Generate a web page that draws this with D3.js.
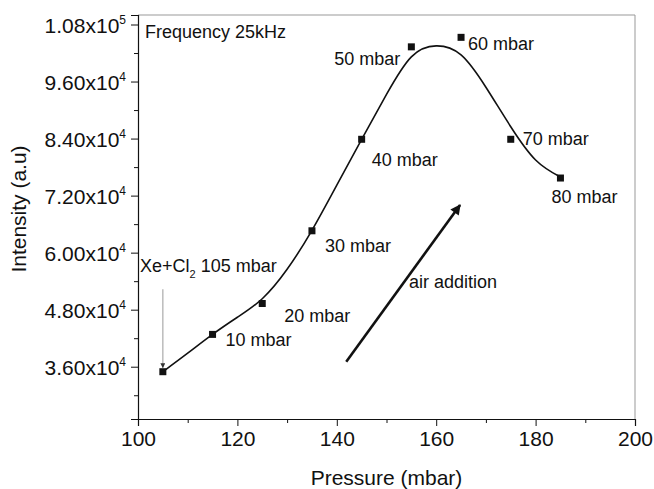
<!DOCTYPE html>
<html><head><meta charset="utf-8">
<script src="https://cdn.jsdelivr.net/npm/d3@7"></script>
<style>
body{margin:0;background:#fff}
svg{display:block}
text{font-family:"Liberation Sans",Arial,Helvetica,sans-serif;fill:#111}
</style>
</head><body>
<svg id="c" width="654" height="489"></svg>
<script>
// ---- data ----
const pressure = [105, 115, 125, 135, 145, 155, 165, 175, 185];
const intensity = [34950, 42800, 49300, 64600, 83850, 103300, 105300, 83850, 75700];
const pointLabels = ["", "10 mbar", "20 mbar", "30 mbar", "40 mbar", "50 mbar", "60 mbar", "70 mbar", "80 mbar"];
const fitPressure = [105, 110, 115, 120, 125, 130, 135, 140, 145, 150, 155, 160, 165, 170, 175, 180, 185];
const fitIntensity = [34950, 38850, 42800, 46400, 50300, 56500, 64700, 74200, 83850, 93300, 101200, 103500, 101600, 94800, 86500, 79500, 75900];
const xTicks = [100, 120, 140, 160, 180, 200];
const xMinorTicks = [110, 130, 150, 170, 190];
const yTicks = [36000, 48000, 60000, 72000, 84000, 96000, 108000];
const yTickMantissa = ["3.60", "4.80", "6.00", "7.20", "8.40", "9.60", "1.08"];
const yTickExponent = ["4", "4", "4", "4", "4", "4", "5"];
const yMinorTicks = [30000, 42000, 54000, 66000, 78000, 90000, 102000];
const arrowFrom = [141.9, 37060];
const arrowTo = [164.8, 70030];
const xeArrowFrom = [105, 52300];
const xeArrowTo = [105, 35800];

// ---- layout ----
const svg = d3.select("#c");
const L = 138, R = 635, T = 15, B = 419;
const x = d3.scaleLinear().domain([100, 200]).range([L, R]);
const y = d3.scaleLinear().domain([25000, 110000]).range([B, T]);

// frame (top/right)
svg.append("line").attr("x1", L).attr("x2", R).attr("y1", T).attr("y2", T)
  .attr("stroke", "#999").attr("stroke-width", 1);
svg.append("line").attr("x1", R).attr("x2", R).attr("y1", T).attr("y2", B)
  .attr("stroke", "#999").attr("stroke-width", 1);

// x axis
const xAxis = svg.append("g").attr("transform", `translate(0,${B})`)
  .call(d3.axisBottom(x).tickValues(xTicks).tickSize(7).tickPadding(5).tickFormat(d3.format("d")));
svg.append("g").attr("transform", `translate(0,${B})`)
  .call(d3.axisBottom(x).tickValues(xMinorTicks).tickSize(4).tickFormat(""))
  .call(g => g.select(".domain").remove());
xAxis.selectAll("text").attr("font-size", 21).attr("fill", "#111")
  .style("font-family", '"Liberation Sans",Arial,sans-serif');

// y axis
const yAxis = svg.append("g").attr("transform", `translate(${L},0)`)
  .call(d3.axisLeft(y).tickValues(yTicks).tickSize(7).tickFormat(""));
svg.append("g").attr("transform", `translate(${L},0)`)
  .call(d3.axisLeft(y).tickValues(yMinorTicks).tickSize(4).tickFormat(""))
  .call(g => g.select(".domain").remove());
[xAxis, yAxis].forEach(g => {
  g.select(".domain").attr("stroke", "#111").attr("stroke-width", 1.2);
});
svg.selectAll(".tick line").attr("stroke", "#111");

const yl = svg.append("g");
yTicks.forEach((v, i) => {
  const t = yl.append("text").attr("x", 126).attr("y", y(v) + 8.5)
    .attr("text-anchor", "end").attr("font-size", 21);
  t.append("tspan").text(yTickMantissa[i] + "x10");
  t.append("tspan").attr("font-size", 12).attr("dy", -9).text(yTickExponent[i]);
});

// axis titles
svg.append("text").attr("x", (L + R) / 2).attr("y", 485).attr("text-anchor", "middle")
  .attr("font-size", 21).text("Pressure (mbar)");
svg.append("text").attr("transform", "translate(26,209) rotate(-90)").attr("text-anchor", "middle")
  .attr("font-size", 21).text("Intensity (a.u)");

// fitted curve
const line = d3.line().x(d => x(d[0])).y(d => y(d[1])).curve(d3.curveNatural);
svg.append("path").datum(d3.zip(fitPressure, fitIntensity))
  .attr("d", line).attr("fill", "none").attr("stroke", "#111").attr("stroke-width", 1.6);

// markers
svg.append("g").selectAll("rect").data(d3.zip(pressure, intensity)).join("rect")
  .attr("x", d => x(d[0]) - 3.5).attr("y", d => y(d[1]) - 3.5)
  .attr("width", 7).attr("height", 7).attr("fill", "#111");

// point labels
const labelOffsets = [null, [13, 12, "start"], [22, 18, "start"], [13, 21, "start"], [10, 27, "start"],
  [-11, 18, "end"], [7, 13, "start"], [12, 6, "start"], [-9, 25, "start"]];
pointLabels.forEach((s, i) => {
  if (!s) return;
  const o = labelOffsets[i];
  svg.append("text").attr("x", x(pressure[i]) + o[0]).attr("y", y(intensity[i]) + o[1])
    .attr("text-anchor", o[2]).attr("font-size", 18).text(s);
});

// frequency label
svg.append("text").attr("x", 145).attr("y", 38).attr("font-size", 18).text("Frequency 25kHz");

// Xe+Cl2 label
const xe = svg.append("text").attr("x", 140).attr("y", 272).attr("font-size", 18);
xe.append("tspan").text("Xe+Cl");
xe.append("tspan").attr("font-size", 11).attr("dy", 6).text("2");
xe.append("tspan").attr("dy", -6).text(" 105 mbar");

// defs for arrowheads
const defs = svg.append("defs");
defs.append("marker").attr("id", "bigHead").attr("viewBox", "0 0 10 10")
  .attr("refX", 9).attr("refY", 5).attr("markerWidth", 5).attr("markerHeight", 4)
  .attr("markerUnits", "strokeWidth").attr("orient", "auto")
  .append("path").attr("d", "M0,0L10,5L0,10z").attr("fill", "#111");
defs.append("marker").attr("id", "smallHead").attr("viewBox", "0 0 10 10")
  .attr("refX", 9).attr("refY", 5).attr("markerWidth", 7).attr("markerHeight", 5)
  .attr("markerUnits", "userSpaceOnUse").attr("orient", "auto")
  .append("path").attr("d", "M0,0L10,5L0,10z").attr("fill", "#333");

// gray Xe arrow
svg.append("line").attr("x1", x(xeArrowFrom[0])).attr("y1", y(xeArrowFrom[1]))
  .attr("x2", x(xeArrowTo[0])).attr("y2", y(xeArrowTo[1]))
  .attr("stroke", "#aaa").attr("stroke-width", 1.2).attr("marker-end", "url(#smallHead)");

// air addition arrow
svg.append("line").attr("x1", x(arrowFrom[0])).attr("y1", y(arrowFrom[1]))
  .attr("x2", x(arrowTo[0])).attr("y2", y(arrowTo[1]))
  .attr("stroke", "#111").attr("stroke-width", 2.6).attr("marker-end", "url(#bigHead)");
svg.append("text").attr("x", 409).attr("y", 288).attr("font-size", 18).text("air addition");
</script>
</body></html>
